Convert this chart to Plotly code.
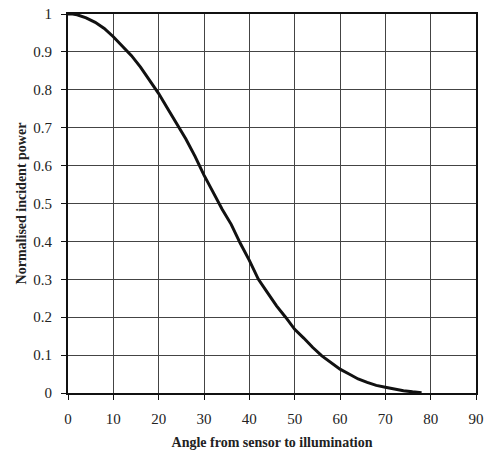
import plotly.graph_objects as go

angle = [0, 1, 2, 4, 6, 8, 10, 12, 14, 16, 18, 20, 22, 24, 26, 28, 30, 32, 34, 36, 38,
         40, 42, 44, 46, 48, 50, 52, 54, 56, 58, 60, 62, 64, 66, 68, 70, 72, 74, 76, 78]
power = [1.0, 1.0, 0.998, 0.99, 0.978, 0.962, 0.94, 0.915, 0.89, 0.86, 0.825, 0.79,
         0.75, 0.71, 0.67, 0.625, 0.575, 0.53, 0.485, 0.445, 0.395, 0.35, 0.30, 0.265,
         0.23, 0.20, 0.168, 0.145, 0.12, 0.098, 0.08, 0.063, 0.05, 0.037, 0.028, 0.02,
         0.015, 0.01, 0.006, 0.003, 0.001]

x_ticks = list(range(0, 91, 10))
y_ticks = [0, 0.1, 0.2, 0.3, 0.4, 0.5, 0.6, 0.7, 0.8, 0.9, 1]
y_labels = ["0", "0.1", "0.2", "0.3", "0.4", "0.5", "0.6", "0.7", "0.8", "0.9", "1"]

font = "Liberation Serif, Times New Roman, serif"

fig = go.Figure(go.Scatter(x=angle, y=power, mode="lines", hoverinfo="skip",
                           line=dict(color="#111111", width=3), showlegend=False))

fig.update_layout(
    width=491, height=455,
    margin=dict(l=68, r=15, t=14, b=62),
    paper_bgcolor="white", plot_bgcolor="white",
    font=dict(family=font, size=15, color="#222222"),
)
fig.update_xaxes(
    range=[0, 90], tickvals=x_ticks, ticktext=[str(v) for v in x_ticks],
    showgrid=True, gridcolor="#444444", gridwidth=1,
    showline=True, linecolor="#111111", linewidth=2, mirror=True,
    ticks="outside", ticklen=5, tickcolor="#111111",
    zeroline=False, ticklabelstandoff=6, automargin=False, ticklabeloverflow="allow",
    title=dict(text="<b>Angle from sensor to illumination</b>", font=dict(size=14), standoff=11),
)
fig.update_yaxes(
    range=[0, 1], tickvals=y_ticks, ticktext=y_labels,
    showgrid=True, gridcolor="#444444", gridwidth=1,
    showline=True, linecolor="#111111", linewidth=2, mirror=True,
    ticks="outside", ticklen=5, tickcolor="#111111",
    zeroline=False, ticklabelstandoff=6, automargin=False, ticklabeloverflow="allow",
    title=dict(text="<b>Normalised incident power</b>", font=dict(size=14), standoff=3),
)

fig.write_html(
    "out.html",
    config={"displayModeBar": False},
    post_script="document.body.style.margin='0';document.body.style.overflow='hidden';",
)
